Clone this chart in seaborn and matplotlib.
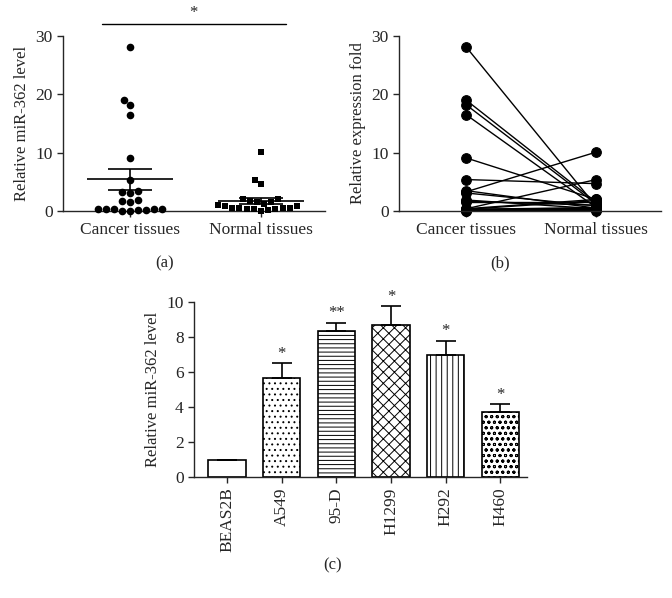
import numpy as np
import pandas as pd
import matplotlib
matplotlib.use("Agg")
import matplotlib.pyplot as plt
import seaborn as sns

sns.set_style("ticks")
plt.rcParams['font.family'] = ['Liberation Serif', 'DejaVu Serif']
plt.rcParams['hatch.linewidth'] = 0.7

# panel (a)/(b): paired tissue samples
tissues = ["Cancer tissues", "Normal tissues"]
cancer = [28.1, 19.0, 18.2, 16.5, 9.1, 5.4, 3.5, 3.3, 3.1, 1.9, 1.7, 1.6,
          0.4, 0.4, 0.3, 0.3, 0.3, 0.2, 0.2, 0.1, 0.0]
normal = [0.8, 1.5, 1.2, 0.6, 2.0, 4.7, 0.5, 10.1, 0.9, 0.4, 1.0, 1.6,
          5.4, 2.0, 1.8, 0.6, 0.5, 0.4, 0.3, 0.2, 0.1]

# panel (c): cell lines
cells = ["BEAS2B", "A549", "95-D", "H1299", "H292", "H460"]
levels = [1.0, 5.65, 8.35, 8.7, 7.0, 3.7]
errs = [0.0, 0.85, 0.45, 1.05, 0.8, 0.45]
stars = ["", "*", "**", "*", "*", "*"]
hatches = ["", "...", "----", "xxx", "|||", "ooo"]

n = len(cancer)
df = pd.DataFrame({
    "tissue": [tissues[0]] * n + [tissues[1]] * n,
    "value": cancer + normal,
    "pair": list(range(n)) * 2,
})

fig = plt.figure(figsize=(6.72, 5.98), dpi=100)
ax1 = fig.add_axes([0.094, 0.647, 0.39, 0.293])
ax2 = fig.add_axes([0.594, 0.647, 0.39, 0.293])
ax3 = fig.add_axes([0.289, 0.2023, 0.4955, 0.2926])

# (a) scatter with mean +/- SEM
sns.swarmplot(data=df[df.tissue == tissues[0]], x="tissue", y="value", order=tissues,
              color="black", marker="o", size=5.5, ax=ax1, clip_on=False)
sns.swarmplot(data=df[df.tissue == tissues[1]], x="tissue", y="value", order=tissues,
              color="black", marker="s", size=5, ax=ax1, clip_on=False)
for i, vals in enumerate([cancer, normal]):
    v = np.array(vals)
    m = v.mean()
    se = v.std(ddof=1) / np.sqrt(len(v))
    ax1.hlines(m, i - 0.33, i + 0.33, color="black", lw=1.2)
    ax1.hlines([m - se, m + se], i - 0.17, i + 0.17, color="black", lw=1.2)
    ax1.vlines(i, m - se, m + se, color="black", lw=1.2)
ax1.plot([-0.21, 1.19], [32.1, 32.1], color="black", lw=1, clip_on=False)
ax1.text(0.48, 32.6, "*", ha="center", va="bottom", fontsize=12)
ax1.set_xlim(-0.51, 1.49)
ax1.set_ylim(0, 30)
ax1.set_yticks([0, 10, 20, 30])
ax1.set_xlabel("")
ax1.set_ylabel("Relative miR-362 level", fontsize=12)

# (b) paired lines
sns.lineplot(data=df, x="tissue", y="value", units="pair", estimator=None,
             color="black", lw=1, marker="o", markersize=7, markeredgecolor="black",
             ax=ax2, clip_on=False)
ax2.set_xlim(-0.515, 1.5)
ax2.set_ylim(0, 30)
ax2.set_yticks([0, 10, 20, 30])
ax2.set_xlabel("")
ax2.set_ylabel("Relative expression fold", fontsize=12)

# (c) bars
sns.barplot(x=cells, y=levels, color="white", edgecolor="black", linewidth=1.2,
            width=0.68, ax=ax3)
for p, h in zip(ax3.patches, hatches):
    p.set_hatch(h)
    p.set_facecolor("white")
ax3.errorbar(range(len(cells)), levels, yerr=[[0] * len(errs), errs], fmt="none",
             ecolor="black", elinewidth=1.2, capsize=7, capthick=1.2)
for i, (lv, e, s) in enumerate(zip(levels, errs, stars)):
    if s:
        ax3.text(i, lv + e + 0.1, s, ha="center", va="bottom", fontsize=12)
ax3.set_xlim(-0.6, 5.49)
ax3.set_ylim(0, 10)
ax3.set_yticks([0, 2, 4, 6, 8, 10])
ax3.tick_params(axis="x", rotation=90)
ax3.set_ylabel("Relative miR-362 level", fontsize=12)

for ax in (ax1, ax2, ax3):
    sns.despine(ax=ax)
    ax.tick_params(labelsize=12.5, width=1, length=4)
    for sp in ("left", "bottom"):
        ax.spines[sp].set_linewidth(1)

fig.text(165 / 672, 1 - 263 / 598, "(a)", ha="center", va="center", fontsize=12)
fig.text(500 / 672, 1 - 263 / 598, "(b)", ha="center", va="center", fontsize=12)
fig.text(333 / 672, 1 - 565 / 598, "(c)", ha="center", va="center", fontsize=12)

fig.savefig("out.png", dpi=100)
